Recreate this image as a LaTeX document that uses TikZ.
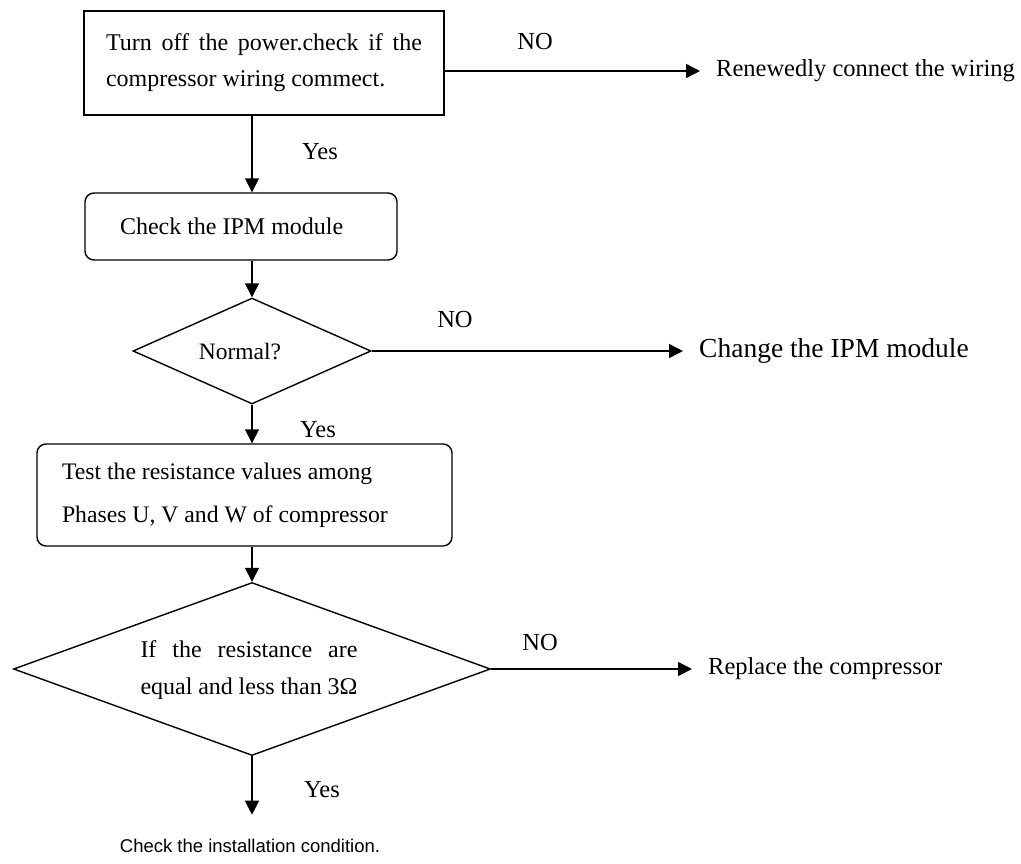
\documentclass[tikz,border=0pt]{standalone}
\usepackage{fontspec}
\setmainfont{Liberation Serif}
\newfontfamily\arialfont{Liberation Sans}
\usetikzlibrary{positioning,arrows.meta,shapes.geometric}

\tikzset{
  flow/.style={line width=1.4pt,-{Triangle[length=14pt,width=14pt]}},
  stepbox/.style={draw,line width=1.4pt,rounded corners=9pt},
  decide/.style={draw,diamond,line width=1.4pt,inner sep=0pt},
}

\begin{document}
\begin{tikzpicture}[x=1pt,y=-1pt,
  lbl/.style={font=\fontsize{24.5}{28}\selectfont,inner sep=0pt},
  result/.style={font=\fontsize{24.5}{30}\selectfont,anchor=west,inner sep=0pt}]
\useasboundingbox (0,0) rectangle (1021,863);

% Steps down the left
\node[draw,line width=1.4pt,minimum width=360pt,minimum height=104pt,text width=316pt,
  align=justify,font=\fontsize{24}{36}\selectfont] (power) at (264,63)
  {Turn off the power.check if the\linebreak compressor wiring commect.};
\node[stepbox,minimum width=312pt,minimum height=67pt,text width=242pt,inner xsep=35pt,
  align=flush left,font=\fontsize{24}{30}\selectfont] (ipm) at (241,226.5) {Check the IPM module};
\node[decide,minimum width=238pt,minimum height=106pt,aspect=2.2] (normal) at (252,351) {};
\node[font=\fontsize{23.5}{28}\selectfont,inner sep=0pt] (normaltext) at (240,352) {Normal?};
\node[stepbox,minimum height=102pt,text width=365pt,inner xsep=25pt,align=flush left,
  font=\fontsize{23.7}{43}\selectfont] (phases) at (244.5,495)
  {Test the resistance values among\\Phases U, V and W of compressor};
\node[decide,minimum width=477pt,minimum height=173pt,aspect=2.75] (equal) at (252,669) {};
\node[text width=217pt,align=justify,font=\fontsize{24}{37}\selectfont,inner sep=0pt]
  (equaltext) at (249,670) {If the resistance are\linebreak equal and less than 3Ω};
\node[font=\arialfont\fontsize{18.5}{22}\selectfont] (install) at (250,846)
  {Check the installation condition.};

% Outcomes on the right
\node[result] (renew) at (716,71) {Renewedly connect the wiring};
\node[result,font=\fontsize{27.5}{32}\selectfont] (ipmchange) at (699,351) {Change the IPM module};
\node[result] (replace) at (708,669) {Replace the compressor};

% Yes / NO labels
\node[lbl] (yes1) at (320,152) {Yes};
\node[lbl] (yes2) at (318,430) {Yes};
\node[lbl] (yes3) at (322,790) {Yes};
\node[lbl] (no1) at (535,42) {NO};
\node[lbl] (no2) at (455,320) {NO};
\node[lbl] (no3) at (540,642) {NO};

% Connectors
\draw[flow] (power.south -| normal.north) -- (ipm.north -| normal.north);
\draw[flow] (ipm.south -| normal.north) -- (normal.north);
\draw[flow] (normal.south) -- (phases.north -| normal.south);
\draw[flow] (phases.south -| equal.north) -- (equal.north);
\draw[flow,shorten >=21pt] (equal.south) -- (install.north -| equal.south);
\draw[flow,shorten >=16pt] (power.east |- renew.west) -- (renew.west);
\draw[flow,shorten >=16pt] (normal.east) -- (ipmchange.west);
\draw[flow,shorten >=16pt] (equal.east) -- (replace.west);
\end{tikzpicture}
\end{document}
